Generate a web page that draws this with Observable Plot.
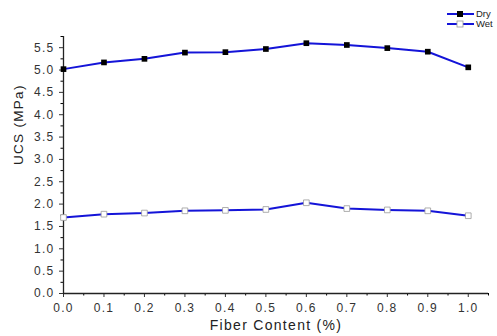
<!DOCTYPE html>
<html><head><meta charset="utf-8">
<script src="https://cdn.jsdelivr.net/npm/d3@7"></script>
<script src="https://cdn.jsdelivr.net/npm/@observablehq/plot@0.6"></script>
<style>
body{margin:0;background:#fff;font-family:"Liberation Sans",Arial,sans-serif;}
#wrap{position:relative;width:497px;height:336px;}
#legend{position:absolute;left:446px;top:9px;font-size:9.5px;color:#222;line-height:10px;}
#legend div{display:flex;align-items:center;height:10px;}
</style></head><body>
<div id="wrap"><div id="chart"></div>
<div id="legend">
<div><svg width="30" height="10"><line x1="1" x2="28" y1="5" y2="5" stroke="#1414d8" stroke-width="2"/><rect x="11" y="2" width="6" height="6" fill="#000"/></svg>Dry</div>
<div><svg width="30" height="10"><line x1="1" x2="28" y1="5" y2="5" stroke="#1414d8" stroke-width="2"/><rect x="11" y="2" width="6" height="6" fill="#fff" stroke="#999" stroke-width="0.8"/></svg>Wet</div>
</div></div>
<script>
const fiber = [0.0,0.1,0.2,0.3,0.4,0.5,0.6,0.7,0.8,0.9,1.0];
const dry = [5.02,5.17,5.25,5.39,5.40,5.47,5.60,5.56,5.49,5.41,5.06];
const wet = [1.70,1.775,1.80,1.85,1.86,1.88,2.03,1.90,1.87,1.85,1.74];
const xTicks = [0,0.1,0.2,0.3,0.4,0.5,0.6,0.7,0.8,0.9,1.0];
const xMinor = [0.05,0.15,0.25,0.35,0.45,0.55,0.65,0.75,0.85,0.95,1.05];
const yTicks = [0,0.5,1,1.5,2,2.5,3,3.5,4,4.5,5,5.5];
const yMinor = [0.25,0.75,1.25,1.75,2.25,2.75,3.25,3.75,4.25,4.75,5.25,5.75];

const dryData = fiber.map((f,i)=>({x:f,y:dry[i]}));
const wetData = fiber.map((f,i)=>({x:f,y:wet[i]}));
const blue = "#1414d8";

const chart = Plot.plot({
  width:497, height:336,
  marginLeft:63, marginRight:9, marginTop:36, marginBottom:43,
  style:{fontFamily:"Liberation Sans, Arial, sans-serif", background:"#fff", letterSpacing:"1.3px"},
  x:{domain:[0,1.05]},
  y:{domain:[0,5.75]},
  marks:[
    Plot.axisX({ticks:xTicks, tickFormat:d=>d.toFixed(1), tickSize:4, tickPadding:6, fontSize:12, color:"#333", label:null}),
    Plot.axisX({ticks:xMinor, tickSize:2.5, tickFormat:null, text:null, label:null}),
    Plot.axisY({ticks:yTicks, tickFormat:d=>d.toFixed(1), tickSize:4, tickPadding:5, fontSize:12, color:"#333", label:null}),
    Plot.axisY({ticks:yMinor, tickSize:2.5, text:null, label:null}),
    Plot.ruleX([0],{stroke:"#222", strokeWidth:1.3}),
    Plot.ruleY([0],{stroke:"#222", strokeWidth:1.3}),
    Plot.text(["Fiber Content (%)"],{frameAnchor:"bottom", dy:36, fontSize:14, fill:"#222"}),
    Plot.text(["UCS (MPa)"],{frameAnchor:"left", dx:-45, rotate:-90, fontSize:13.5, fill:"#222"}),
    Plot.line(dryData,{x:"x",y:"y",stroke:blue,strokeWidth:2}),
    Plot.line(wetData,{x:"x",y:"y",stroke:blue,strokeWidth:2}),
    Plot.dot(dryData,{x:"x",y:"y",symbol:"square",r:3.2,fill:"#000",stroke:"none"}),
    Plot.dot(wetData,{x:"x",y:"y",symbol:"square",r:3.2,fill:"#fff",stroke:"#999",strokeWidth:0.8})
  ]
});
document.getElementById("chart").appendChild(chart);
</script>
</body></html>
